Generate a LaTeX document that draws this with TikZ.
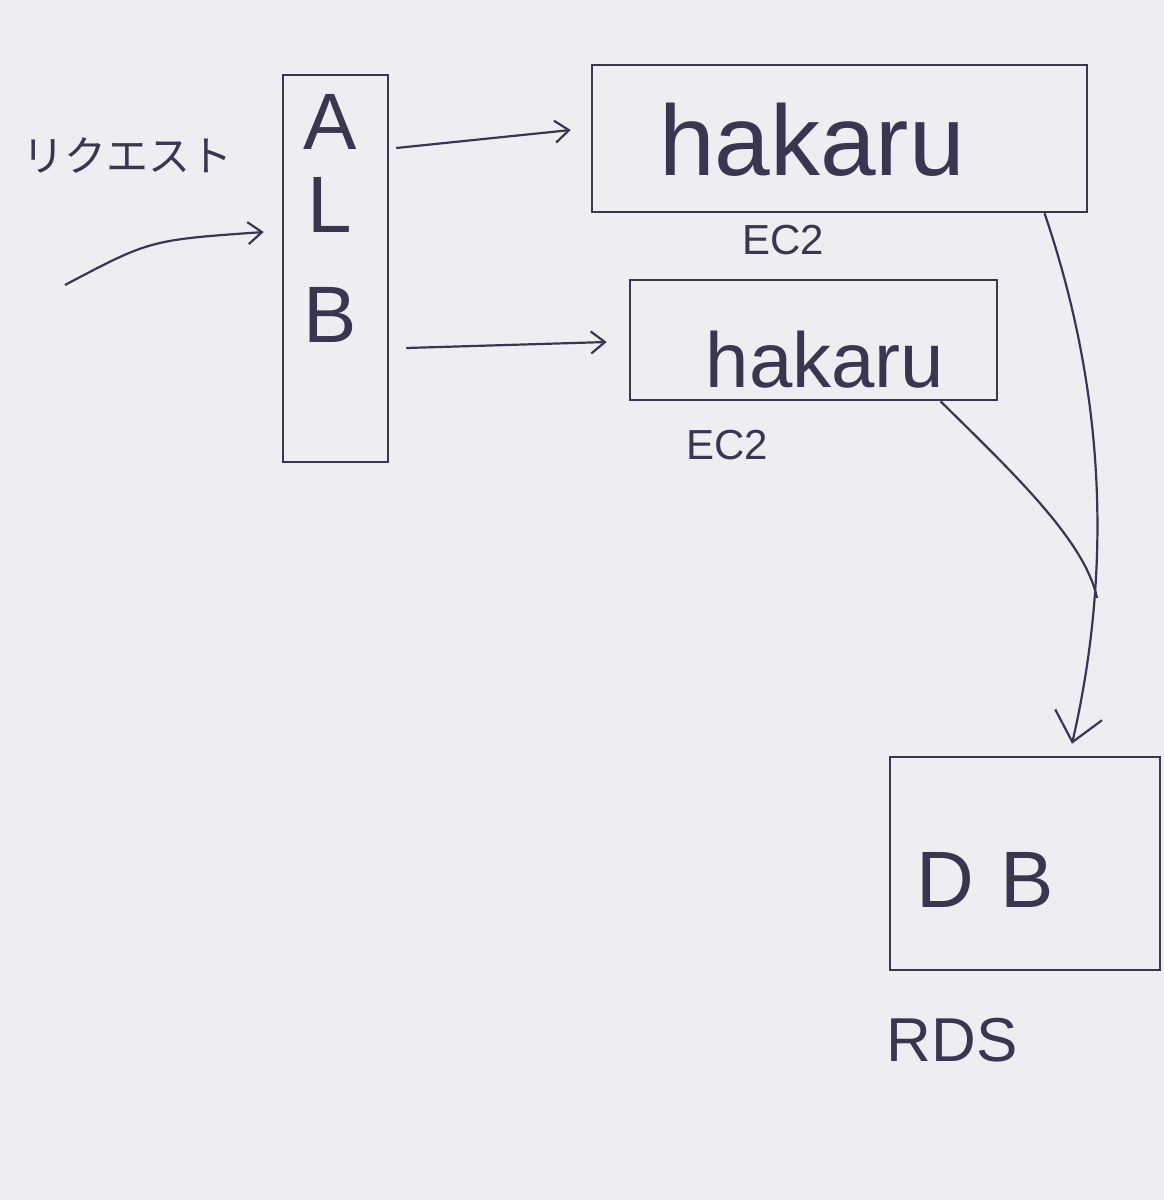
\documentclass[tikz,border=0pt]{standalone}
\usepackage{fontspec}
\setmainfont{Liberation Sans}
\newfontfamily\cjk{Noto Sans CJK JP}
\usetikzlibrary{arrows.meta}
\definecolor{paper}{HTML}{ECEEF1}
\definecolor{ink}{HTML}{3B3650}
\begin{document}
\begin{tikzpicture}[x=1pt,y=-1pt,
  box/.style={draw=ink,line width=2.5pt,rectangle,inner sep=0pt},
  lbl/.style={text=ink,inner sep=0pt},
  arr/.style={draw=ink,line width=2.2pt,-{Straight Barb[length=14pt,width=22pt,line width=2.2pt]}},
  bigarr/.style={draw=ink,line width=2.2pt,-{Straight Barb[length=28pt,width=48pt,line width=2.2pt]}},
  ln/.style={draw=ink,line width=2.2pt}]
\fill[paper] (0,0) rectangle (1164,1200);
\useasboundingbox (0,0) rectangle (1164,1200);
% nodes
\node[box,minimum width=105pt,minimum height=387pt] (alb) at (335.5,268.5) {};
\node[lbl,font=\fontsize{80}{80}\selectfont] (la) at (330,122) {A};
\node[lbl,font=\fontsize{80}{80}\selectfont] (ll) at (330,205) {L};
\node[lbl,font=\fontsize{80}{80}\selectfont] (lb) at (330,315) {B};
\node[box,minimum width=495pt,minimum height=147pt] (h1) at (839.5,138.5) {};
\node[lbl,font=\fontsize{100}{100}\selectfont] (t1) at (812,140) {hakaru};
\node[lbl,font=\fontsize{42}{42}\selectfont] (e1) at (783,240) {EC2};
\node[box,minimum width=367pt,minimum height=120pt] (h2) at (813.5,340) {};
\node[lbl,font=\fontsize{78}{78}\selectfont] (t2) at (825,360) {hakaru};
\node[lbl,font=\fontsize{42}{42}\selectfont] (e2) at (727,445) {EC2};
\node[box,minimum width=270pt,minimum height=213pt] (db) at (1025,863.5) {};
\node[lbl,font=\fontsize{80}{80}\selectfont] (tdb) at (985,880) {D\,\,B};
\node[lbl,font=\fontsize{62}{62}\selectfont] (rds) at (952,1040) {RDS};
\node[lbl,font=\cjk\fontsize{42}{42}\selectfont] (req) at (128,155) {リクエスト};
% connectors
\coordinate (rs) at (65,285);
\coordinate (m) at (1097,598);
\draw[arr] (rs) .. controls (150,240) .. ([xshift=-18pt]alb.west |- 0,232);
\draw[arr] ([xshift=7pt]alb.east |- 0,148) -- ([xshift=-20pt]h1.west |- 0,130);
\draw[arr] ([xshift=17pt]alb.east |- 0,348) -- ([xshift=-22pt]h2.west |- 0,342);
\draw[bigarr] ([xshift=205pt]h1.south) .. controls (1115,420) and (1105,600) .. ([xshift=47pt,yshift=12pt]db.north);
\draw[ln] ([xshift=127pt]h2.south) .. controls (1010,470) and (1085,540) .. (m);
\end{tikzpicture}
\end{document}
